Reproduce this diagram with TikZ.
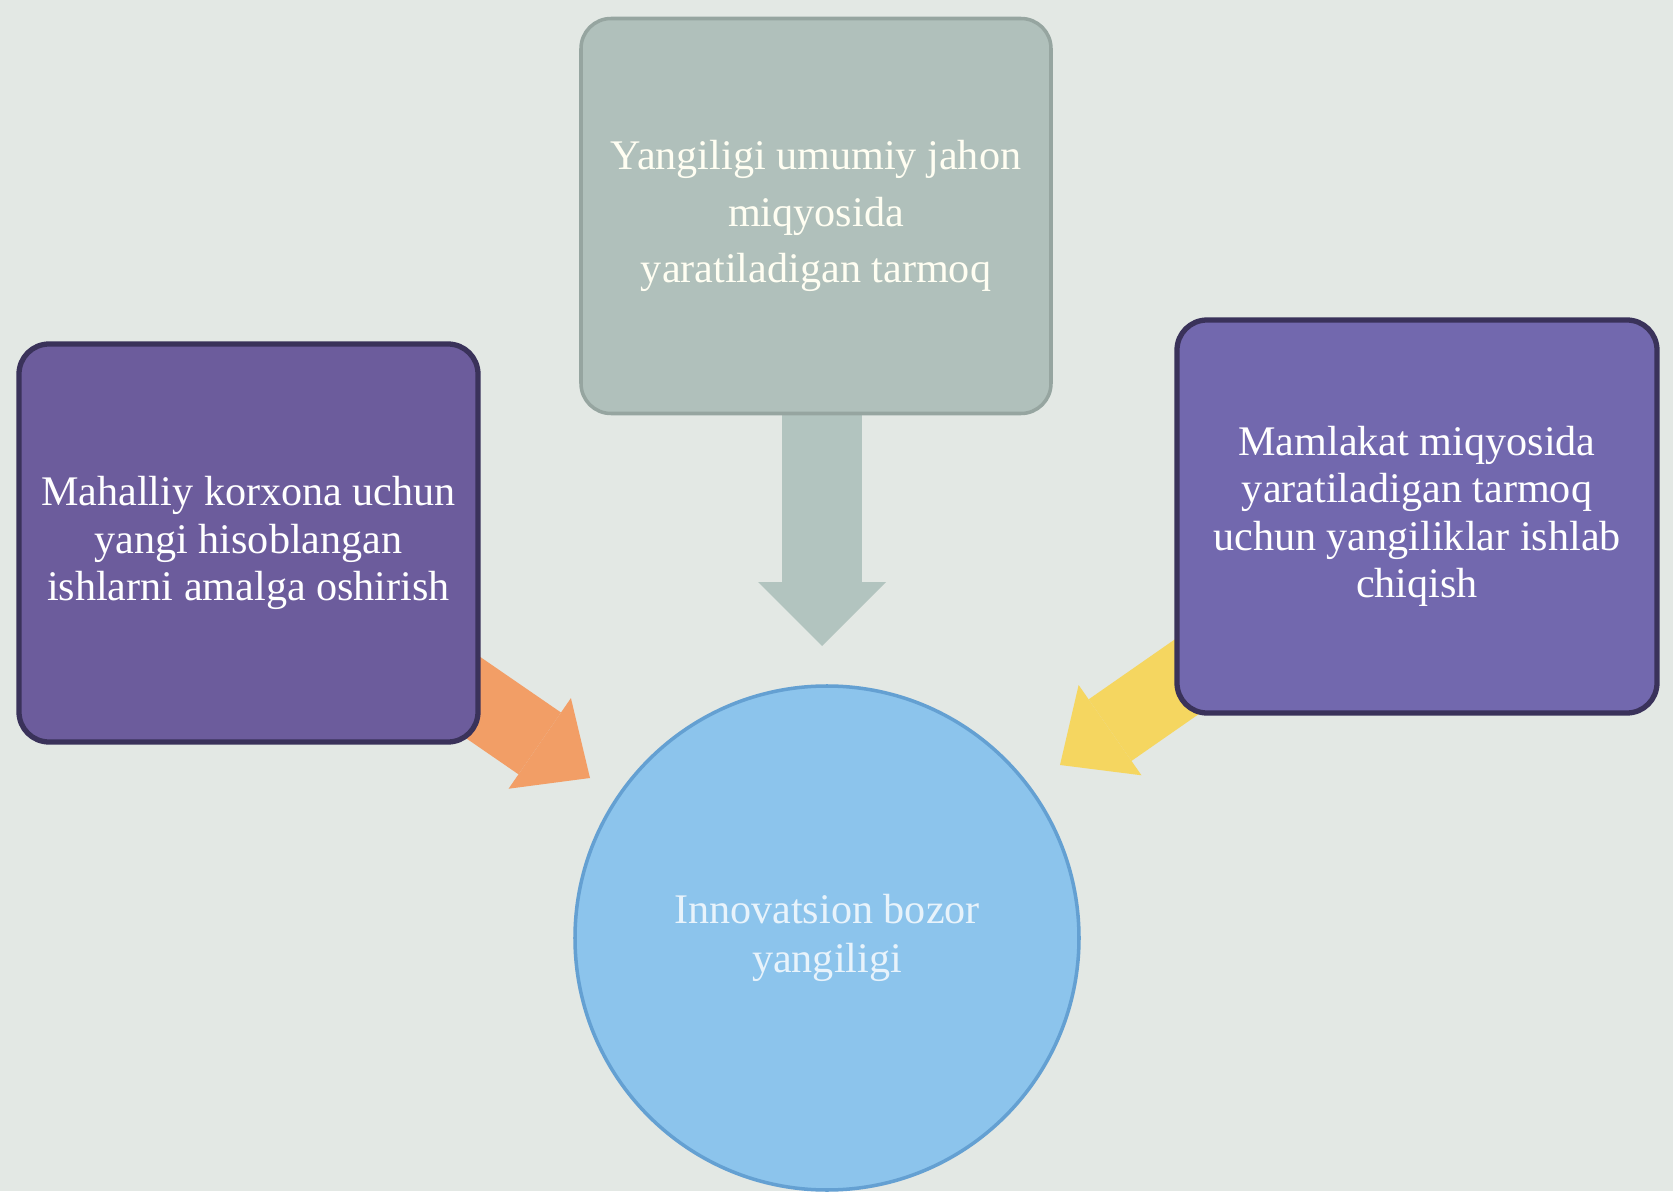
\documentclass[tikz,border=0pt]{standalone}
\usepackage{fontspec}
\setmainfont{Liberation Serif}
\usetikzlibrary{arrows.meta}

\definecolor{pagebg}{RGB}{227,232,228}
\definecolor{topgray}{RGB}{176,192,187}
\definecolor{topline}{RGB}{150,165,160}
\definecolor{leftviolet}{RGB}{108,92,156}
\definecolor{rightviolet}{RGB}{114,104,174}
\definecolor{violetline}{RGB}{58,50,90}
\definecolor{circblue}{RGB}{140,196,236}
\definecolor{circline}{RGB}{100,160,210}
\definecolor{arrgray}{RGB}{178,196,191}
\definecolor{arrorange}{RGB}{242,158,102}
\definecolor{arryellow}{RGB}{245,214,96}

\pgfdeclarelayer{back}
\pgfdeclarelayer{under}
\pgfsetlayers{back,under,main}

\tikzset{
	box/.style={rounded corners=0.3cm, align=center, text=white, font=\fontsize{12}{13.5}\selectfont},
	topbox/.style={box, fill=topgray, draw=topline, line width=1pt, minimum width=4.7cm, minimum height=3.95cm, font=\fontsize{12}{16}\selectfont, text=white!95!yellow},
	sidebox/.style={box, draw=violetline, line width=1.5pt, minimum height=3.95cm},
	hub/.style={shape=circle, fill=circblue, draw=circline, line width=1pt, minimum size=5.04cm, align=center, text=white!80!circblue, font=\fontsize{12}{14}\selectfont},
	blockarrow/.style={line width=#1},
	grayarrow/.style={blockarrow=0.8cm, color=arrgray, -{Triangle[length=0.64cm, width=1.28cm, line width=0pt, color=arrgray]}},
	orangearrow/.style={blockarrow=0.75cm, color=arrorange, -{Triangle[length=0.61cm, width=1.1cm, line width=0pt, color=arrorange]}},
	yellowarrow/.style={blockarrow=0.75cm, color=arryellow, -{Triangle[length=0.61cm, width=1.1cm, line width=0pt, color=arryellow]}}
}

\begin{document}
\begin{tikzpicture}
	\begin{pgfonlayer}{back}
		\fill[pagebg] (0,0) rectangle (16.73,11.91);
	\end{pgfonlayer}
	\useasboundingbox (0,0) rectangle (16.73,11.91);

	\node[topbox] (tbox) at (8.16,9.75) {Yangiligi umumiy jahon\\miqyosida\\yaratiladigan tarmoq};
	\node[sidebox, fill=leftviolet, minimum width=4.59cm, minimum height=3.98cm] (lbox) at (2.485,6.48) {Mahalliy korxona uchun\\yangi hisoblangan\\ishlarni amalga oshirish};
	\node[sidebox, fill=rightviolet, minimum width=4.8cm, minimum height=3.93cm] (rbox) at (14.17,6.745) {Mamlakat miqyosida\\yaratiladigan tarmoq\\uchun yangiliklar ishlab\\chiqish};
	\node[hub] (market) at (8.27,2.53) {Innovatsion bozor\\yangiligi};

	\coordinate (ttip) at (8.22,5.45);
	\coordinate (ltip) at (5.90,4.13);
	\coordinate (rtip) at (10.60,4.26);

	\begin{pgfonlayer}{under}
		\path [grayarrow] (tbox.center -| ttip) edge (ttip);
		\path [orangearrow] (lbox.center) edge (ltip);
		\path [yellowarrow] (rbox.center) edge (rtip);
	\end{pgfonlayer}
\end{tikzpicture}
\end{document}
